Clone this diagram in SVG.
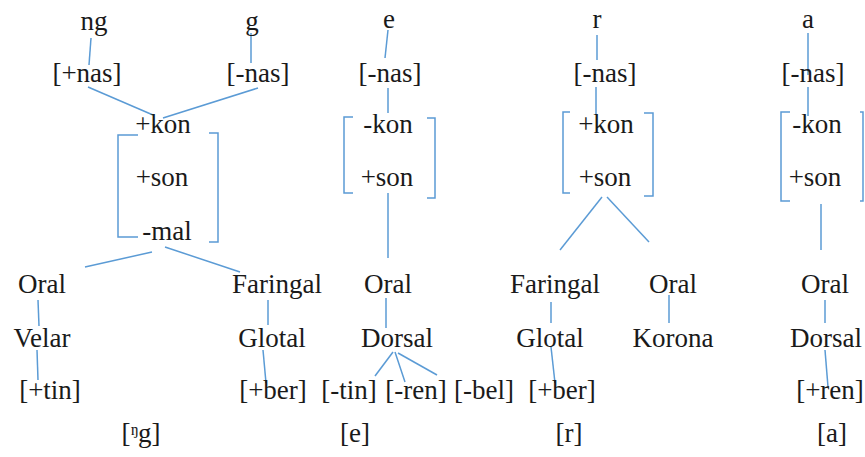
<svg xmlns="http://www.w3.org/2000/svg" width="865" height="457" viewBox="0 0 865 457">
<style>
text{font-family:'Liberation Serif','DejaVu Serif','Times New Roman',serif;font-size:27px;fill:#1a1a1a;text-anchor:middle}
.c line,.c path{stroke:#5b9bd5;stroke-width:1.5;fill:none}
</style>
<rect width="865" height="457" fill="#ffffff"/>
<g class="c" id="connectors">
<line x1="91" y1="38" x2="89" y2="65"/>
<line x1="251" y1="33" x2="251" y2="63"/>
<line x1="88" y1="87" x2="153" y2="115"/>
<line x1="258" y1="88" x2="163" y2="118"/>
<path d="M138 135 H118 V237 H138"/>
<path d="M209 133 H218 V242 H209"/>
<line x1="152" y1="252" x2="85" y2="267"/>
<line x1="165" y1="247" x2="240" y2="272"/>
<line x1="38" y1="300" x2="39" y2="326"/>
<line x1="37" y1="350" x2="38" y2="380"/>
<line x1="268" y1="300" x2="268" y2="325"/>
<line x1="263" y1="350" x2="266" y2="383"/>
<line x1="388" y1="30" x2="385" y2="58"/>
<line x1="388" y1="88" x2="388" y2="113"/>
<path d="M353 117 H344 V193 H353"/>
<path d="M427 118 H435 V198 H427"/>
<line x1="388" y1="193" x2="388" y2="258"/>
<line x1="386" y1="298" x2="386" y2="328"/>
<line x1="393" y1="352" x2="375" y2="376"/>
<line x1="395" y1="352" x2="405" y2="382"/>
<line x1="398" y1="353" x2="437" y2="375"/>
<line x1="597" y1="35" x2="597" y2="60"/>
<line x1="596" y1="87" x2="596" y2="115"/>
<path d="M570 112 H563 V193 H570"/>
<path d="M644 113 H653 V196 H644"/>
<line x1="602" y1="197" x2="560" y2="250"/>
<line x1="607" y1="197" x2="649" y2="242"/>
<line x1="551" y1="302" x2="551" y2="323"/>
<line x1="669" y1="295" x2="669" y2="323"/>
<line x1="551" y1="347" x2="555" y2="383"/>
<line x1="808" y1="33" x2="808" y2="75"/>
<line x1="808" y1="87" x2="808" y2="116"/>
<path d="M790 112 H781 V201 H790"/>
<path d="M860 112 H863 V201 H860"/>
<line x1="821" y1="204" x2="821" y2="250"/>
<line x1="825" y1="300" x2="825" y2="323"/>
<line x1="825" y1="350" x2="828" y2="387"/>
</g>
<g font-family="Liberation Serif, DejaVu Serif, serif">
<g id="col-ng">
<g id="n-ng"><text x="94" y="30">ng</text></g>
<g id="n-g"><text x="252" y="30">g</text></g>
<g id="n-pnas1"><text x="87" y="82">[+nas]</text></g>
<g id="n-mnas1"><text x="258" y="82">[-nas]</text></g>
<g id="n-feat1"><text x="163" y="133">+kon</text><text x="162" y="186">+son</text><text x="167" y="240">-mal</text></g>
<g id="n-oral1"><text x="42" y="293">Oral</text></g>
<g id="n-far1"><text x="277" y="293">Faringal</text></g>
<g id="n-velar"><text x="42" y="347">Velar</text></g>
<g id="n-glot1"><text x="272" y="347">Glotal</text></g>
<g id="n-tin1"><text x="50" y="399">[+tin]</text></g>
<g id="n-ber1"><text x="273" y="399">[+ber]</text></g>
<g id="n-lab1"><text x="141" y="442">[ᵑg]</text></g>
</g>
<g id="col-e">
<g id="n-e"><text x="389" y="28">e</text></g>
<g id="n-mnas2"><text x="390" y="82">[-nas]</text></g>
<g id="n-feat2"><text x="388" y="133">-kon</text><text x="387" y="186">+son</text></g>
<g id="n-oral2"><text x="388" y="293">Oral</text></g>
<g id="n-dors2"><text x="397" y="347">Dorsal</text></g>
<g id="n-tin2"><text x="349" y="399">[-tin]</text></g>
<g id="n-ren2"><text x="416" y="399">[-ren]</text></g>
<g id="n-bel2"><text x="484" y="399">[-bel]</text></g>
<g id="n-lab2"><text x="355" y="442">[e]</text></g>
</g>
<g id="col-r">
<g id="n-r"><text x="597" y="28">r</text></g>
<g id="n-mnas3"><text x="605" y="82">[-nas]</text></g>
<g id="n-feat3"><text x="606" y="133">+kon</text><text x="605" y="186">+son</text></g>
<g id="n-far3"><text x="555" y="293">Faringal</text></g>
<g id="n-oral3"><text x="673" y="293">Oral</text></g>
<g id="n-glot3"><text x="550" y="347">Glotal</text></g>
<g id="n-kor3"><text x="673" y="347">Korona</text></g>
<g id="n-ber3"><text x="562" y="399">[+ber]</text></g>
<g id="n-lab3"><text x="569" y="442">[r]</text></g>
</g>
<g id="col-a">
<g id="n-a"><text x="808" y="28">a</text></g>
<g id="n-mnas4"><text x="813" y="82">[-nas]</text></g>
<g id="n-feat4"><text x="817" y="133">-kon</text><text x="815" y="186">+son</text></g>
<g id="n-oral4"><text x="825" y="293">Oral</text></g>
<g id="n-dors4"><text x="826" y="347">Dorsal</text></g>
<g id="n-ren4"><text x="830" y="399">[+ren]</text></g>
<g id="n-lab4"><text x="832" y="442">[a]</text></g>
</g>
</g>
</svg>
